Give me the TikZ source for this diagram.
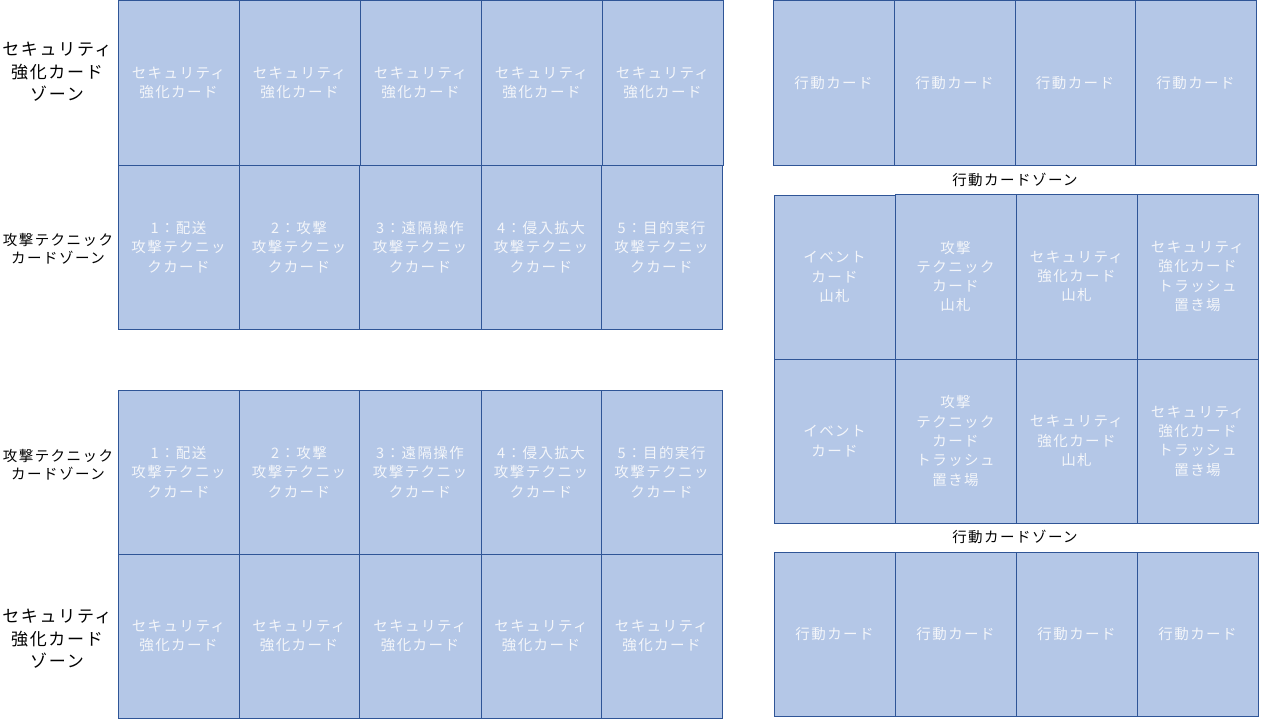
\documentclass[tikz,border=0pt]{standalone}
\usepackage{fontspec}
\setmainfont[LetterSpace=10]{Noto Sans CJK JP}
\definecolor{cardfill}{HTML}{B4C7E7}
\definecolor{cardline}{HTML}{2F5597}
\definecolor{cardtext}{HTML}{F4F6FA}
\tikzset{
  cardbox/.style={draw=cardline, fill=cardfill, line width=1pt, inner sep=0pt, outer sep=0pt,
    align=center, text=cardtext, font=\fontsize{14.5}{19.3}\selectfont},
  zonelabel/.style={align=center, text=black, inner sep=0pt, font=\fontsize{14.5}{18.5}\selectfont},
  biglabel/.style={align=center, text=black, inner sep=0pt, font=\fontsize{17}{22.5}\selectfont}
}
\newcommand\cardat[6]{\node[cardbox, minimum width={(#4-#2)*1pt}, minimum height={(#5-#3)*1pt}] (#1) at ({(#2+#4)/2},{(#3+#5)/2}) {#6};}
\begin{document}
\begin{tikzpicture}[x=1pt,y=-1pt]
\useasboundingbox (0,0) rectangle (1271,720);
% top-left security row
\cardat{s1}{118}{0.5}{239}{165}{セキュリティ\\強化カード}
\cardat{s2}{239}{0.5}{360}{165}{セキュリティ\\強化カード}
\cardat{s3}{360}{0.5}{481}{165}{セキュリティ\\強化カード}
\cardat{s4}{481}{0.5}{602}{165}{セキュリティ\\強化カード}
\cardat{s5}{602}{0.5}{723}{165}{セキュリティ\\強化カード}
% top-left attack row
\cardat{a1}{118}{165}{239}{329}{1：配送\\攻撃テクニッ\\クカード}
\cardat{a2}{239}{165}{359}{329}{2：攻撃\\攻撃テクニッ\\クカード}
\cardat{a3}{359}{165}{481}{329}{3：遠隔操作\\攻撃テクニッ\\クカード}
\cardat{a4}{481}{165}{601}{329}{4：侵入拡大\\攻撃テクニッ\\クカード}
\cardat{a5}{601}{165}{722}{329}{5：目的実行\\攻撃テクニッ\\クカード}
% bottom-left attack row
\cardat{b1}{118}{390}{239}{554}{1：配送\\攻撃テクニッ\\クカード}
\cardat{b2}{239}{390}{359}{554}{2：攻撃\\攻撃テクニッ\\クカード}
\cardat{b3}{359}{390}{481}{554}{3：遠隔操作\\攻撃テクニッ\\クカード}
\cardat{b4}{481}{390}{601}{554}{4：侵入拡大\\攻撃テクニッ\\クカード}
\cardat{b5}{601}{390}{722}{554}{5：目的実行\\攻撃テクニッ\\クカード}
% bottom-left security row
\cardat{t1}{118}{554}{239}{718}{セキュリティ\\強化カード}
\cardat{t2}{239}{554}{359}{718}{セキュリティ\\強化カード}
\cardat{t3}{359}{554}{481}{718}{セキュリティ\\強化カード}
\cardat{t4}{481}{554}{601}{718}{セキュリティ\\強化カード}
\cardat{t5}{601}{554}{722}{718}{セキュリティ\\強化カード}
% left labels
\node[biglabel] (l1) at (57,72) {セキュリティ\\強化カード\\ゾーン};
\node[zonelabel] (l2) at (58,249) {攻撃テクニック\\カードゾーン};
\node[zonelabel] (l3) at (58,465) {攻撃テクニック\\カードゾーン};
\node[biglabel] (l4) at (57,639) {セキュリティ\\強化カード\\ゾーン};
% right top action row
\cardat{r1}{773}{0.5}{894}{165}{行動カード}
\cardat{r2}{894}{0.5}{1015}{165}{行動カード}
\cardat{r3}{1015}{0.5}{1135}{165}{行動カード}
\cardat{r4}{1135}{0.5}{1256}{165}{行動カード}
\node[zonelabel] (z1) at (1015,180) {行動カードゾーン};
% right middle
\cardat{m1}{774}{195}{895}{359}{イベント\\カード\\山札}
\cardat{m2}{895}{194}{1016}{359}{攻撃\\テクニック\\カード\\山札}
\cardat{m3}{1016}{194}{1137}{359}{セキュリティ\\強化カード\\山札}
\cardat{m4}{1137}{194}{1258}{359}{セキュリティ\\強化カード\\トラッシュ\\置き場}
\cardat{n1}{774}{359}{895}{523}{イベント\\カード}
\cardat{n2}{895}{359}{1016}{523}{攻撃\\テクニック\\カード\\トラッシュ\\置き場}
\cardat{n3}{1016}{359}{1137}{523}{セキュリティ\\強化カード\\山札}
\cardat{n4}{1137}{359}{1258}{523}{セキュリティ\\強化カード\\トラッシュ\\置き場}
\node[zonelabel] (z2) at (1015,537) {行動カードゾーン};
% right bottom action row
\cardat{q1}{774}{552}{895}{716}{行動カード}
\cardat{q2}{895}{552}{1016}{716}{行動カード}
\cardat{q3}{1016}{552}{1137}{716}{行動カード}
\cardat{q4}{1137}{552}{1258}{716}{行動カード}
\end{tikzpicture}
\end{document}
